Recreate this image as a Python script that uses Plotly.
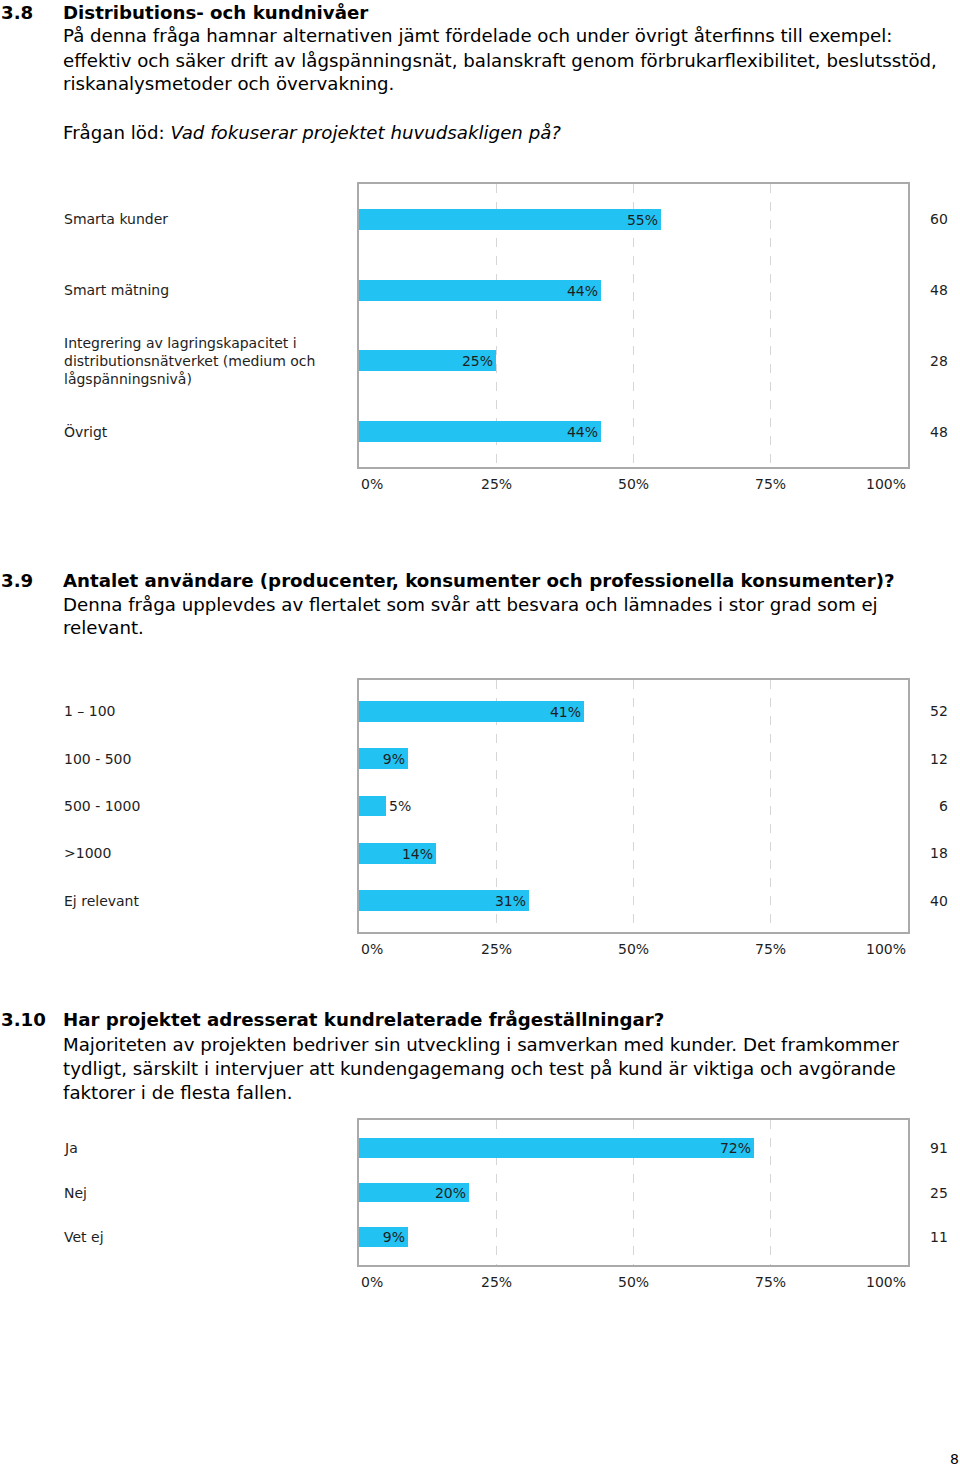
import plotly.graph_objects as go

W, H = 960, 1467
FONT = "DejaVu Sans"
BAR_COLOR = "#22C3F2"
TEXT = "#1e1e1e"

# ---------------- data ----------------
cats_38 = ["Smarta kunder", "Smart mätning",
           "Integrering av lagringskapacitet i<br>distributionsnätverket (medium och<br>lågspänningsnivå)",
           "Övrigt"]
pct_38 = [55, 44, 25, 44]
cnt_38 = [60, 48, 28, 48]

cats_39 = ["1 – 100", "100 - 500", "500 - 1000", ">1000", "Ej relevant"]
pct_39 = [41, 9, 5, 14, 31]
cnt_39 = [52, 12, 6, 18, 40]

cats_310 = ["Ja", "Nej", "Vet ej"]
pct_310 = [72, 20, 9]
cnt_310 = [91, 25, 11]

tick_vals = [0, 25, 50, 75, 100]
tick_text = ["0%", "25%", "50%", "75%", "100%"]

sec_38_num = "3.8"
sec_38_title = "Distributions- och kundnivåer"
sec_38_body = [
    "På denna fråga hamnar alternativen jämt fördelade och under övrigt återfinns till exempel:",
    "effektiv och säker drift av lågspänningsnät, balanskraft genom förbrukarflexibilitet, beslutsstöd,",
    "riskanalysmetoder och övervakning.",
]
sec_38_question = "Frågan löd: <i>Vad fokuserar projektet huvudsakligen på?</i>"

sec_39_num = "3.9"
sec_39_title = "Antalet användare (producenter, konsumenter och professionella konsumenter)?"
sec_39_body = [
    "Denna fråga upplevdes av flertalet som svår att besvara och lämnades i stor grad som ej",
    "relevant.",
]

sec_310_num = "3.10"
sec_310_title = "Har projektet adresserat kundrelaterade frågeställningar?"
sec_310_body = [
    "Majoriteten av projekten bedriver sin utveckling i samverkan med kunder. Det framkommer",
    "tydligt, särskilt i intervjuer att kundengagemang och test på kund är viktiga och avgörande",
    "faktorer i de flesta fallen.",
]
page_number = "8"

# ---------------- layout helpers ----------------
def py(px):
    return 1 - px / H

def pxx(px):
    return px / W

X_DOM = [pxx(359), pxx(908)]
HEAD_SIZE = 18.2
BODY_SIZE = 18.2

charts = [
    # cats, pct, cnt, top px, bottom px, pad, bar width
    (cats_38, pct_38, cnt_38, 184, 467, 0.5, 0.30),
    (cats_39, pct_39, cnt_39, 680, 932, 0.656, 0.44),
    (cats_310, pct_310, cnt_310, 1120, 1265, 0.64, 0.45),
]

fig = go.Figure()
annotations = []
layout = {}

for i, (cats, pct, cnt, top, bot, pad, bw) in enumerate(charts, start=1):
    xa = "x" if i == 1 else f"x{i}"
    ya = "y" if i == 1 else f"y{i}"
    xkey = "xaxis" if i == 1 else f"xaxis{i}"
    ykey = "yaxis" if i == 1 else f"yaxis{i}"
    fig.add_trace(go.Bar(
        orientation="h", x=pct, y=cats, xaxis=xa, yaxis=ya,
        width=bw, marker=dict(color=BAR_COLOR, line=dict(width=0)),
        text=[f"{v}%" for v in pct],
        textposition=["outside" if v < 7 else "inside" for v in pct],
        insidetextanchor="end",
        textfont=dict(family=FONT, size=14, color=TEXT),
        insidetextfont=dict(family=FONT, size=14, color=TEXT),
        outsidetextfont=dict(family=FONT, size=14, color=TEXT),
        constraintext="none", cliponaxis=False, showlegend=False,
        hoverinfo="skip",
    ))
    layout[xkey] = dict(
        domain=X_DOM, anchor=ya, range=[0, 100], tickvals=[25, 50, 75],
        showticklabels=False, ticks="", showgrid=True, gridcolor="#d6d6d6",
        griddash="dash", gridwidth=1, zeroline=False, showline=True, mirror=True,
        linecolor="#aaaaaa", linewidth=1.5, fixedrange=True,
    )
    layout[ykey] = dict(
        domain=[py(bot), py(top)], anchor=xa, type="category",
        categoryorder="array", categoryarray=cats,
        range=[len(cats) - 1 + pad, -pad], showticklabels=False, ticks="",
        showgrid=False, zeroline=False, showline=True, mirror=True,
        linecolor="#aaaaaa", linewidth=1.5, fixedrange=True,
    )
    for c, n in zip(cats, cnt):
        annotations.append(dict(
            text=c, xref="paper", x=pxx(62), xanchor="left", align="left",
            yref=ya, y=c, yanchor="middle", showarrow=False,
            font=dict(family=FONT, size=14, color=TEXT)))
        annotations.append(dict(
            text=str(n), xref="paper", x=pxx(950), xanchor="right",
            yref=ya, y=c, yanchor="middle", showarrow=False,
            font=dict(family=FONT, size=14, color=TEXT)))
    for tv, tt in zip(tick_vals, tick_text):
        anchor = "left" if tv == 0 else ("right" if tv == 100 else "center")
        annotations.append(dict(
            text=tt, xref=xa, x=tv, xanchor=anchor,
            yref=f"{ya} domain", y=0, yanchor="middle", yshift=-17,
            showarrow=False, font=dict(family=FONT, size=14, color=TEXT)))

# ---------------- document text ----------------
def add_section(num, title, body, y0):
    annotations.append(dict(text=f"<b>{num}</b>", xref="paper", x=pxx(-1), xanchor="left",
                            yref="paper", y=py(y0), yanchor="middle", showarrow=False,
                            font=dict(family=FONT, size=HEAD_SIZE, color="#000")))
    annotations.append(dict(text=f"<b>{title}</b>", xref="paper", x=pxx(61), xanchor="left",
                            yref="paper", y=py(y0), yanchor="middle", showarrow=False,
                            font=dict(family=FONT, size=HEAD_SIZE, color="#000")))
    for k, line in enumerate(body):
        annotations.append(dict(text=line, xref="paper", x=pxx(61), xanchor="left",
                                yref="paper", y=py(y0 + 24 * (k + 1)), yanchor="middle",
                                showarrow=False, font=dict(family=FONT, size=BODY_SIZE, color="#000")))

add_section(sec_38_num, sec_38_title, sec_38_body, 12)
annotations.append(dict(text=sec_38_question, xref="paper", x=pxx(61), xanchor="left",
                        yref="paper", y=py(133), yanchor="middle", showarrow=False,
                        font=dict(family=FONT, size=BODY_SIZE, color="#000")))
add_section(sec_39_num, sec_39_title, sec_39_body, 580)
add_section(sec_310_num, sec_310_title, sec_310_body, 1020)
annotations.append(dict(text=page_number, xref="paper", x=pxx(961), xanchor="right",
                        yref="paper", y=py(1459), yanchor="middle", showarrow=False,
                        font=dict(family=FONT, size=14, color="#000")))

fig.update_layout(
    width=W, height=H, margin=dict(l=0, r=0, t=0, b=0),
    paper_bgcolor="white", plot_bgcolor="white",
    font=dict(family=FONT, size=14, color=TEXT),
    annotations=annotations, bargap=0, **layout,
)

fig.write_html("out.html", config={"displayModeBar": False})
